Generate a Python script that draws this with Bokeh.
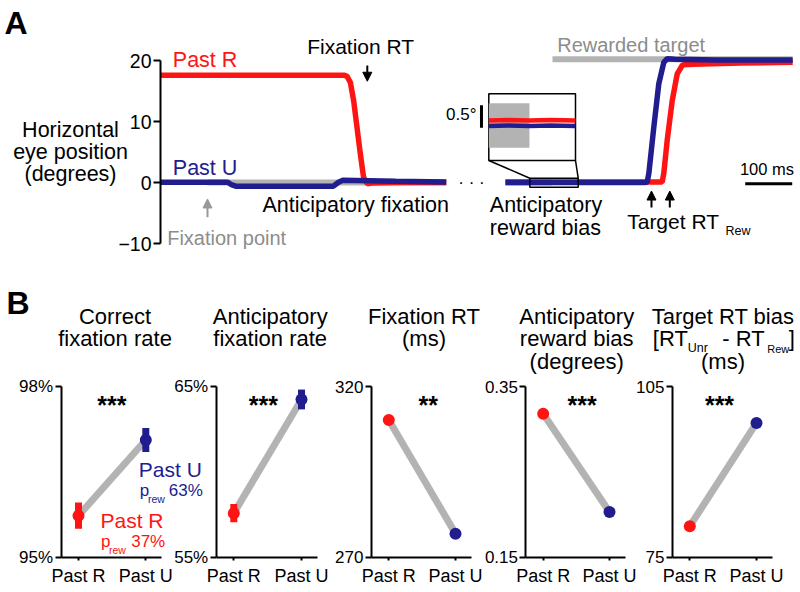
from bokeh.plotting import figure
from bokeh.models import Range1d, LinearAxis, FixedTicker, Label, Arrow, NormalHead
from bokeh.embed import file_html
from bokeh.resources import INLINE

# ======================= DATA =======================
# Panel A - fixation-aligned segment (ms from fixation-point onset), horizontal eye position (deg)
a_fix_t_red = [-100, 290, 297, 304, 311, 318, 325, 332, 340, 350, 400, 508]
a_fix_y_red = [17.6, 17.6, 17.4, 16.4, 13.4, 9.1, 4.8, 0.9, -0.2, -0.1, 0.0, 0.0]
a_fix_t_blue = [-100, 43, 52, 60, 268, 278, 287, 400, 508]
a_fix_y_blue = [0.05, 0.05, -0.4, -0.6, -0.6, 0.0, 0.35, 0.2, 0.1]
# Panel A - target-aligned segment (ms from target onset)
a_tgt_t_blue = [-100, 195, 201.5, 205, 215.6, 226.2, 236.8, 244, 260, 350, 511]
a_tgt_y_blue = [0.0, 0.0, 0.05, 1.5, 9.1, 16.2, 19.7, 20.3, 20.2, 20.1, 20.1]
a_tgt_t_red = [-100, 228, 233.4, 236.8, 244, 254.7, 265.3, 276, 279.4, 300, 400, 511]
a_tgt_y_red = [0.1, 0.1, 0.1, 1.5, 6.9, 13.4, 17.8, 19.2, 19.3, 19.4, 19.6, 19.7]
# Panel A - magnified anticipatory window (target-aligned ms, deg)
a_inset_t = [-48.3, -25, 0, 25, 54.7]
a_inset_red = [0.11, 0.12, 0.11, 0.12, 0.11]
a_inset_blue = [-0.01, 0.0, -0.01, 0.0, -0.01]
a_inset_window_t = [-48.3, 54.7]
a_inset_window_y = [-0.77, 0.70]
# Panel A - events
a_fixpoint_on = 0          # ms (fixation-aligned)
a_fix_seg_end = 508
a_tgt_seg_end = 511
a_target_on = 0            # ms (target-aligned)
a_target_pos = 20.2        # deg
a_bar_half = 0.49          # half thickness of stimulus bars (deg)
a_fixation_rt = 340
a_target_rts = [210.6, 249.6]
a_yticks = [-10, 0, 10, 20]
a_ytick_labels = ["\u221210", "0", "10", "20"]

# Panel B
b_categories = ["Past R", "Past U"]
b_titles = [["Correct", "fixation rate"],
            ["Anticipatory", "fixation rate"],
            ["Fixation RT", "(ms)"],
            ["Anticipatory", "reward bias", "(degrees)"],
            ["Target RT bias", None, "(ms)"]]
b_ylims = [(95, 98), (55, 65), (270, 320), (0.15, 0.35), (75, 105)]
b_ytick_labels = [["95%", "98%"], ["55%", "65%"], ["270", "320"], ["0.15", "0.35"], ["75", "105"]]
b_past_r = [95.73, 57.58, 310.2, 0.318, 80.45]
b_past_u = [97.06, 64.24, 276.9, 0.203, 98.6]
b_err_r = [0.23, 0.53, 1.0, 0.003, 0.4]
b_err_u = [0.21, 0.58, 1.0, 0.003, 0.4]
b_sig = ["***", "***", "**", "***", "***"]

# ======================= LAYOUT / STYLE =======================
W, H = 800, 592
OX, OY = 0, 0
FONT = "Liberation Sans"
RED = "#ff1414"
BLUE = "#211d8f"
GRAY = "#b3b3b3"
TGRAY = "#8c8c8c"

def lin(v0, p0, v1, p1):
    k = (p1 - p0) / (v1 - v0)
    return lambda v: p0 + (v - v0) * k

def xrange_(v0, p0, v1, p1):
    k = (v1 - v0) / (p1 - p0)
    return Range1d(start=v0 + (OX - p0) * k, end=v0 + (OX + W - p0) * k)

def yrange_(v0, p0, v1, p1):
    k = (v1 - v0) / (p1 - p0)
    return Range1d(start=v0 + (OY + H - p0) * k, end=v0 + (OY - p0) * k)

p = figure(width=W, height=H, x_range=Range1d(OX, OX + W), y_range=Range1d(OY + H, OY),
           x_axis_type=None, y_axis_type=None, toolbar_location=None,
           output_backend="svg", min_border=0, outline_line_color=None,
           background_fill_color="white", border_fill_color="white")

# panel A coordinate systems (anchors in window pixels)
A_FX = (0, 207, 100, 254)
A_TX = (0, 552, 100, 599)
A_AY = (0, 182, 20, 60)
A_IX = (a_inset_window_t[0], 488.3, a_inset_window_t[1], 575)
A_IY = (a_inset_window_y[0], 160, a_inset_window_y[1], 93.3)

ranges_x = {"fx": xrange_(*A_FX), "tx": xrange_(*A_TX), "ix": xrange_(*A_IX)}
ranges_y = {"ay": yrange_(*A_AY), "iy": yrange_(*A_IY)}

# panel B coordinate systems
b_r_px = [78, 233.3, 388.3, 542.7, 689.3]
b_u_px = [145.3, 301, 455, 609, 756]
B_TOP, B_BOT = 386, 556.7
for k in range(5):
    ranges_x[f"bx{k}"] = xrange_(0, b_r_px[k], 1, b_u_px[k])
    lo, hi = b_ylims[k]
    ranges_y[f"by{k}"] = yrange_(lo, B_BOT, hi, B_TOP)
p.extra_x_ranges = ranges_x
p.extra_y_ranges = ranges_y


def style_axis(ax, size, tick_out, standoff):
    ax.axis_line_width = 2
    ax.axis_line_color = "black"
    ax.major_tick_line_width = 2
    ax.major_tick_line_color = "black"
    ax.major_tick_in = 0
    ax.major_tick_out = tick_out
    ax.minor_tick_line_color = None
    ax.major_label_text_font = FONT
    ax.major_label_text_font_size = f"{size}px"
    ax.major_label_text_color = "black"
    ax.major_label_standoff = standoff


def lab(x, y, text, size, color="black", align="left", bold=False):
    # y is the wanted baseline; the label box is shifted to compensate its rendering
    p.add_layout(Label(x=x, y=y - 0.34 * size, text=text, text_font=FONT,
                       text_font_size=f"{size}px", text_color=color, text_align=align,
                       text_baseline="alphabetic",
                       text_font_style="bold" if bold else "normal"))

# ======================= PANEL A =======================
A = dict(x_range_name="fx", y_range_name="ay")
T = dict(x_range_name="tx", y_range_name="ay")
I = dict(x_range_name="ix", y_range_name="iy")

# stimulus bars
p.quad(left=[a_fixpoint_on], right=[a_fix_seg_end], bottom=[-a_bar_half], top=[a_bar_half],
       fill_color=GRAY, line_color=None, **A)
p.quad(left=[-100], right=[a_target_on], bottom=[-a_bar_half], top=[a_bar_half],
       fill_color=GRAY, line_color=None, **T)
p.quad(left=[a_target_on], right=[a_tgt_seg_end], bottom=[a_target_pos - a_bar_half],
       top=[a_target_pos + a_bar_half], fill_color=GRAY, line_color=None, **T)

# traces
p.line(a_fix_t_red, a_fix_y_red, line_color=RED, line_width=5.5, **A)
p.line(a_fix_t_blue, a_fix_y_blue, line_color=BLUE, line_width=5.5, **A)
p.line(a_tgt_t_red, a_tgt_y_red, line_color=RED, line_width=5.5, **T)
p.line(a_tgt_t_blue, a_tgt_y_blue, line_color=BLUE, line_width=5.5, **T)

# window marked on the trace, and its magnified inset
wt, wy = a_inset_window_t, a_inset_window_y
p.quad(left=[wt[0]], right=[wt[1]], bottom=[wy[0]], top=[wy[1]],
       fill_color=None, line_color="black", line_width=1.5, **T)
p.quad(left=[wt[0]], right=[wt[1]], bottom=[wy[0]], top=[wy[1]],
       fill_color="white", line_color="black", line_width=1.5, **I)
p.quad(left=[wt[0]], right=[a_target_on], bottom=[-a_bar_half], top=[a_bar_half],
       fill_color=GRAY, line_color=None, **I)
p.line(a_inset_t, a_inset_red, line_color=RED, line_width=4.5, **I)
p.line(a_inset_t, a_inset_blue, line_color=BLUE, line_width=4.5, **I)
# connectors between inset and window
fix_tx, fix_ay = lin(*A_TX), lin(*A_AY)
fix_ix, fix_iy = lin(*A_IX), lin(*A_IY)
p.segment(x0=[fix_ix(wt[0]), fix_ix(wt[1])], y0=[fix_iy(wy[0]), fix_iy(wy[0])],
          x1=[fix_tx(wt[0]), fix_tx(wt[1])], y1=[fix_ay(wy[1]), fix_ay(wy[1])],
          line_color="black", line_width=1.5)
# scale bars
p.segment(x0=[-57], y0=[-0.05], x1=[-57], y1=[0.45], line_color="black", line_width=3,
          line_cap="butt", **I)
p.segment(x0=[410], y0=[-0.2], x1=[510], y1=[-0.2], line_color="black", line_width=3,
          line_cap="butt", **T)

# arrows
p.add_layout(Arrow(end=NormalHead(size=9, fill_color="black", line_color="black", line_width=1),
                   x_start=a_fixation_rt, y_start=19.2, x_end=a_fixation_rt, y_end=16.6,
                   line_color="black", line_width=2, **A))
p.add_layout(Arrow(end=NormalHead(size=9, fill_color="#999999", line_color="#999999", line_width=1),
                   x_start=a_fixpoint_on, y_start=-5.7, x_end=a_fixpoint_on, y_end=-2.7,
                   line_color="#999999", line_width=2, **A))
for rt in a_target_rts:
    p.add_layout(Arrow(end=NormalHead(size=9, fill_color="black", line_color="black", line_width=1),
                       x_start=rt, y_start=-4.1, x_end=rt, y_end=-1.4,
                       line_color="black", line_width=2, **T))

# y axis
ya = LinearAxis(fixed_location=-100, bounds=(a_yticks[0], a_yticks[-1]),
                ticker=FixedTicker(ticks=a_yticks),
                major_label_overrides=dict(zip(a_yticks, a_ytick_labels)), **A)
style_axis(ya, 19.5, 7, 2)
p.add_layout(ya, "left")

# panel A texts
lab(4, 33, "A", 32, bold=True)
lab(172.3, 66.7, "Past R", 21.5, RED)
lab(172.3, 175, "Past U", 21.5, BLUE)
lab(306.7, 53.3, "Fixation RT", 21)
lab(70, 136.7, "Horizontal", 21.5, align="center")
lab(70, 159.3, "eye position", 21.5, align="center")
lab(70, 180.7, "(degrees)", 21.5, align="center")
lab(262, 211.7, "Anticipatory fixation", 21.5)
lab(166.7, 244.3, "Fixation point", 20, TGRAY)
lab(556.7, 51.7, "Rewarded target", 20, TGRAY)
lab(476, 120, "0.5\u00b0", 17, align="right")
lab(471, 188, "\u00b7 \u00b7 \u00b7", 17, align="center")
lab(489.3, 211.7, "Anticipatory", 21.5)
lab(489.3, 235, "reward bias", 21.5)
lab(626.7, 228.3, "Target RT", 21)
lab(725, 235, "Rew", 12.5)
lab(766.5, 174, "100 ms", 16.5, align="center")

# ======================= PANEL B =======================
lab(6, 313, "B", 32, bold=True)
title_cx = [114.5, 269.7, 423.5, 576.2, 722.5]
star_cx = [111.3, 262.8, 427.8, 581.7, 719]
title_base = [323.3, 345.5, 368]
for k in range(5):
    B = dict(x_range_name=f"bx{k}", y_range_name=f"by{k}")
    lo, hi = b_ylims[k]
    r, u = b_past_r[k], b_past_u[k]
    p.line([0, 1], [r, u], line_color=GRAY, line_width=7, **B)
    p.segment(x0=[0, 1], y0=[r - b_err_r[k], u - b_err_u[k]], x1=[0, 1],
              y1=[r + b_err_r[k], u + b_err_u[k]], line_color=[RED, BLUE],
              line_width=7, line_cap="butt", **B)
    p.scatter([0, 1], [r, u], size=12, marker="circle", fill_color=[RED, BLUE],
              line_color=None, **B)

    yax = LinearAxis(fixed_location=-0.26, bounds=(lo, hi), ticker=FixedTicker(ticks=[lo, hi]),
                     major_label_overrides={lo: b_ytick_labels[k][0], hi: b_ytick_labels[k][1]}, **B)
    style_axis(yax, 17, 6, 2)
    p.add_layout(yax, "left")
    xax = LinearAxis(fixed_location=lo, bounds=(-0.26, 1.24), ticker=FixedTicker(ticks=[0, 1]),
                     major_label_overrides={0: b_categories[0], 1: b_categories[1]}, **B)
    style_axis(xax, 18, 3, 6)
    p.add_layout(xax, "below")

    for i, line in enumerate(b_titles[k]):
        if line:
            lab(title_cx[k], title_base[i], line, 22, align="center")
    lab(star_cx[k], 413, b_sig[k], 25, bold=True, align="center")

# title with subscripts for panel 5
lab(652.3, 345.5, "[RT", 22)
lab(687.3, 352, "Unr", 12.5)
lab(721.7, 345.5, "- RT", 22)
lab(766.7, 352, "Rew", 11)
lab(788.3, 345.5, "]", 22)

# legend texts in first panel
lab(138.3, 476.5, "Past U", 21, BLUE)
lab(139.3, 495.5, "p", 17, BLUE)
lab(147.5, 501.7, "rew", 10.5, BLUE)
lab(168.3, 495.5, "63%", 17, BLUE)
lab(100, 526.7, "Past R", 21, RED)
lab(100.5, 547, "p", 17, RED)
lab(108.5, 552.7, "rew", 10.5, RED)
lab(130.7, 547, "37%", 17, RED)

open("out.html", "w").write(file_html(p, INLINE))
